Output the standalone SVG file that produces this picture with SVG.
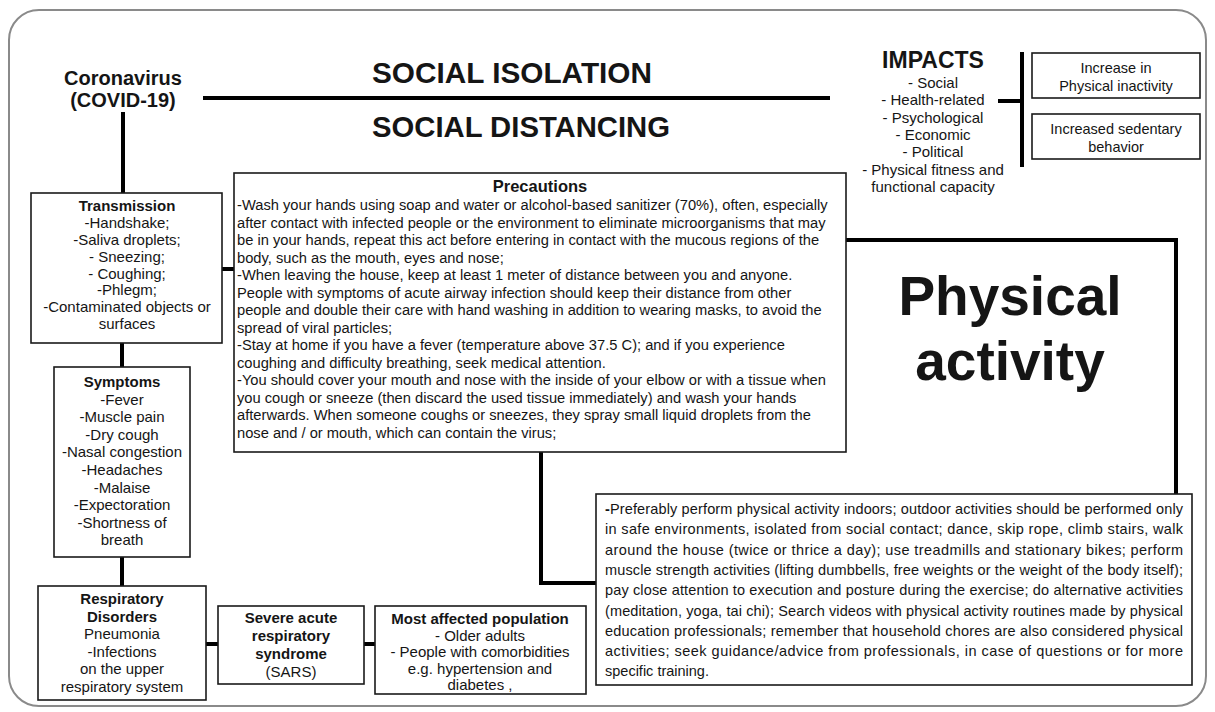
<svg xmlns="http://www.w3.org/2000/svg" width="1215" height="712" viewBox="0 0 1215 712">
<style>
text{font-family:"Liberation Sans",Arial,sans-serif;fill:#151515;}
.b{font-weight:bold;}
.c{text-anchor:middle;}
.t15{font-size:15px;}
.t145{font-size:14.5px;}
.box{fill:#fff;stroke:#1a1a1a;stroke-width:1.6;}
.con{fill:none;stroke:#000;stroke-width:4;}
</style>
<rect x="9" y="10" width="1197" height="696" rx="30" fill="#fff" stroke="#8a8a8a" stroke-width="2"/>

<g id="connectors">
<path class="con" d="M203,98 H830"/>
<path class="con" d="M123,112 V193"/>
<path class="con" d="M222,269 H234"/>
<path class="con" d="M122,343 V367"/>
<path class="con" d="M122,557 V586"/>
<path class="con" d="M206,644 H218"/>
<path class="con" d="M364,644 H375"/>
<path class="con" d="M541,452 V583 H596"/>
<path class="con" d="M846,240 H1176 V494"/>
<path class="con" d="M998,101 H1022"/>
<path class="con" d="M1022,52 V167"/>
</g>

<g id="coronavirus">
<text class="b c" x="123" y="85" font-size="20">Coronavirus</text>
<text class="b c" x="123" y="107" font-size="20">(COVID-19)</text>
</g>

<g id="social-isolation">
<text class="b c" x="512" y="83" font-size="30" textLength="280" lengthAdjust="spacingAndGlyphs">SOCIAL ISOLATION</text>
</g>
<g id="social-distancing">
<text class="b c" x="521" y="137" font-size="30" textLength="298" lengthAdjust="spacingAndGlyphs">SOCIAL DISTANCING</text>
</g>

<g id="impacts">
<text class="b c" x="933" y="68" font-size="23">IMPACTS</text>
<text class="c t15" x="933" y="88">- Social</text>
<text class="c t15" x="933" y="105.3">- Health-related</text>
<text class="c t15" x="933" y="122.6">- Psychological</text>
<text class="c t15" x="933" y="139.9">- Economic</text>
<text class="c t15" x="933" y="157.2">- Political</text>
<text class="c t15" x="933" y="174.5">- Physical fitness and</text>
<text class="c t15" x="933" y="191.8">functional capacity</text>
</g>

<g id="inactivity">
<rect class="box" x="1032" y="53" width="168" height="45"/>
<text class="c t145" x="1116" y="73">Increase in</text>
<text class="c t145" x="1116" y="91">Physical inactivity</text>
</g>
<g id="sedentary">
<rect class="box" x="1032" y="114" width="168" height="45"/>
<text class="c t145" x="1116" y="134">Increased sedentary</text>
<text class="c t145" x="1116" y="152">behavior</text>
</g>

<g id="transmission">
<rect class="box" x="31" y="193" width="191" height="150"/>
<text class="b c t15" x="127" y="211">Transmission</text>
<text class="c t15" x="127" y="228">-Handshake;</text>
<text class="c t15" x="127" y="245">-Saliva droplets;</text>
<text class="c t15" x="127" y="262">- Sneezing;</text>
<text class="c t15" x="127" y="279">- Coughing;</text>
<text class="c t15" x="127" y="295">-Phlegm;</text>
<text class="c t15" x="127" y="312">-Contaminated objects or</text>
<text class="c t15" x="127" y="329">surfaces</text>
</g>

<g id="symptoms">
<rect class="box" x="54" y="367" width="136" height="190"/>
<text class="b c t15" x="122" y="387">Symptoms</text>
<text class="c t15" x="122" y="404.6">-Fever</text>
<text class="c t15" x="122" y="422.2">-Muscle pain</text>
<text class="c t15" x="122" y="439.8">-Dry cough</text>
<text class="c t15" x="122" y="457.4">-Nasal congestion</text>
<text class="c t15" x="122" y="475">-Headaches</text>
<text class="c t15" x="122" y="492.6">-Malaise</text>
<text class="c t15" x="122" y="510.2">-Expectoration</text>
<text class="c t15" x="122" y="527.8">-Shortness of</text>
<text class="c t15" x="122" y="545.4">breath</text>
</g>

<g id="respiratory">
<rect class="box" x="38" y="586" width="168" height="114"/>
<text class="b c t15" x="122" y="604">Respiratory</text>
<text class="b c t15" x="122" y="621.5">Disorders</text>
<text class="c t15" x="122" y="639">Pneumonia</text>
<text class="c t15" x="122" y="656.5">-Infections</text>
<text class="c t15" x="122" y="674">on the upper</text>
<text class="c t15" x="122" y="691.5">respiratory system</text>
</g>

<g id="sars">
<rect class="box" x="218" y="606" width="146" height="78"/>
<text class="b c t15" x="291" y="623">Severe acute</text>
<text class="b c t15" x="291" y="641">respiratory</text>
<text class="b c t15" x="291" y="659">syndrome</text>
<text class="c t15" x="291" y="677">(SARS)</text>
</g>

<g id="most-affected">
<rect class="box" x="375" y="606" width="211" height="88"/>
<text class="b c t15" x="480" y="624">Most affected population</text>
<text class="c t15" x="480" y="640.5">- Older adults</text>
<text class="c t15" x="480" y="657">- People with comorbidities</text>
<text class="c t15" x="480" y="673.5">e.g. hypertension and</text>
<text class="c t15" x="480" y="690">diabetes ,</text>
</g>

<g id="precautions">
<rect class="box" x="234" y="173" width="612" height="279"/>
<text class="b c" x="540" y="192" font-size="16.5">Precautions</text>
<g font-size="14.7">
<text x="237" y="210">-Wash your hands using soap and water or alcohol-based sanitizer (70%), often, especially</text>
<text x="237" y="227.5">after contact with infected people or the environment to eliminate microorganisms that may</text>
<text x="237" y="245">be in your hands, repeat this act before entering in contact with the mucous regions of the</text>
<text x="237" y="262.5">body, such as the mouth, eyes and nose;</text>
<text x="237" y="280">-When leaving the house, keep at least 1 meter of distance between you and anyone.</text>
<text x="237" y="297.5">People with symptoms of acute airway infection should keep their distance from other</text>
<text x="237" y="315">people and double their care with hand washing in addition to wearing masks, to avoid the</text>
<text x="237" y="332.5">spread of viral particles;</text>
<text x="237" y="350">-Stay at home if you have a fever (temperature above 37.5 C); and if you experience</text>
<text x="237" y="367.5">coughing and difficulty breathing, seek medical attention.</text>
<text x="237" y="385">-You should cover your mouth and nose with the inside of your elbow or with a tissue when</text>
<text x="237" y="402.5">you cough or sneeze (then discard the used tissue immediately) and wash your hands</text>
<text x="237" y="420">afterwards. When someone coughs or sneezes, they spray small liquid droplets from the</text>
<text x="237" y="437.5">nose and / or mouth, which can contain the virus;</text>
</g>
</g>

<g id="physical-activity">
<text class="b c" x="1010" y="315" font-size="55">Physical</text>
<text class="b c" x="1010" y="380" font-size="55">activity</text>
</g>

<g id="pa-recommendations">
<rect class="box" x="596" y="494" width="596" height="191"/>
<g font-size="14.5">
<text x="605" y="514" textLength="578" lengthAdjust="spacing"><tspan font-weight="bold">-</tspan>Preferably perform physical activity indoors; outdoor activities should be performed only</text>
<text x="605" y="534.3" textLength="578" lengthAdjust="spacing">in safe environments, isolated from social contact; dance, skip rope, climb stairs, walk</text>
<text x="605" y="554.6" textLength="578" lengthAdjust="spacing">around the house (twice or thrice a day); use treadmills and stationary bikes; perform</text>
<text x="605" y="574.9" textLength="578" lengthAdjust="spacing">muscle strength activities (lifting dumbbells, free weights or the weight of the body itself);</text>
<text x="605" y="595.2" textLength="578" lengthAdjust="spacing">pay close attention to execution and posture during the exercise; do alternative activities</text>
<text x="605" y="615.5" textLength="578" lengthAdjust="spacing">(meditation, yoga, tai chi); Search videos with physical activity routines made by physical</text>
<text x="605" y="635.8" textLength="578" lengthAdjust="spacing">education professionals; remember that household chores are also considered physical</text>
<text x="605" y="656.1" textLength="578" lengthAdjust="spacing">activities; seek guidance/advice from professionals, in case of questions or for more</text>
<text x="605" y="676.4">specific training.</text>
</g>
</g>
</svg>
